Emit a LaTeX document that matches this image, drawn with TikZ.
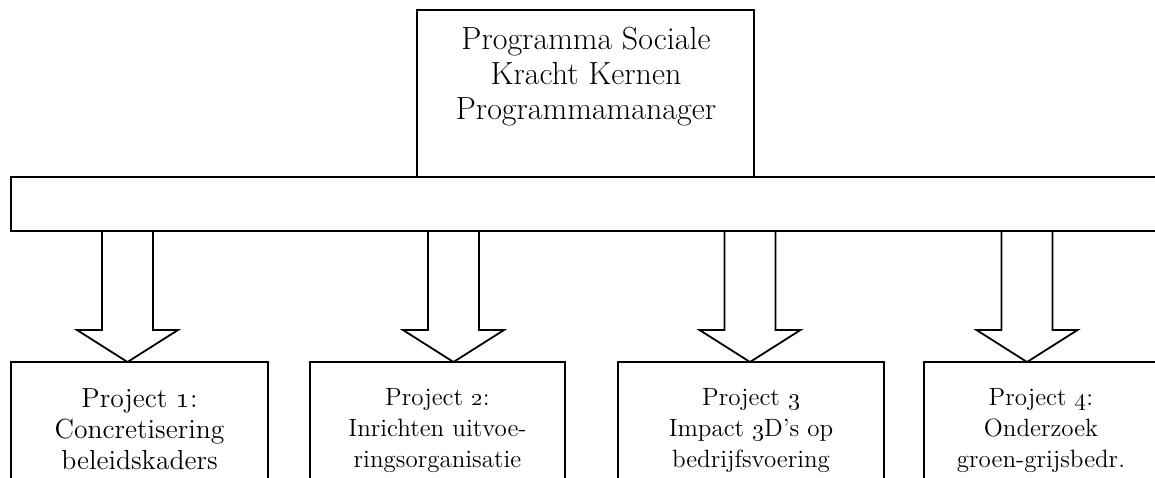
\documentclass[tikz,border=0pt]{standalone}
\usetikzlibrary{fit,calc}
\begin{document}
\begin{tikzpicture}[x=0.5pt,y=-0.5pt,
  box/.style={draw,line width=0.9pt,inner sep=0pt,outer sep=0pt},
  lbl/.style={align=center,inner sep=0pt,anchor=north},
  bigtxt/.style={font=\fontsize{16}{17.5}\selectfont},
  midtxt/.style={font=\fontsize{13.8}{15.5}\selectfont},
  smalltxt/.style={font=\fontsize{12.5}{15.5}\selectfont},
  blk/.style={draw,line width=0.9pt,line join=miter}]
\useasboundingbox (0,0) rectangle (1155,477);
\clip (0,0) rectangle (1155,477);
% top box and bar
\node[box,fit={(417,10)(754,177)}] (top) {};
\node[lbl,bigtxt] (toptext) at (586,27) {Programma Sociale\\Kracht Kernen\\Programmamanager};
\node[box,fit={(11,177)(1175,231)}] (bar) {};
% project boxes
\node[box,fit={(11,362)(268,540)}] (p1) {};
\node[box,fit={(310,362)(565,540)}] (p2) {};
\node[box,fit={(618,362)(884,540)}] (p3) {};
\node[box,fit={(924,362)(1158,540)}] (p4) {};
\node[lbl,midtxt] (t1) at (139.5,388) {Project \oldstylenums{1}:\\Concretisering\\beleidskaders};
\node[lbl,smalltxt] (t2) at (437.5,388) {Project \oldstylenums{2}:\\Inrichten uitvoe-\\ringsorganisatie};
\node[lbl,smalltxt] (t3) at (751,388) {Project \oldstylenums{3}\\Impact \oldstylenums{3}D's op\\bedrijfsvoering};
\node[lbl,smalltxt] (t4) at (1041,388) {Project \oldstylenums{4}:\\Onderzoek\\groen-grijsbedr.};
% arrow tips on box tops
\path (p1.north -| 127.5,0) coordinate (tip1);
\path (p2.north -| 453.5,0) coordinate (tip2);
\path (p3.north -| 750,0) coordinate (tip3);
\path (p4.north -| 1027,0) coordinate (tip4);
\foreach \i in {1,2,3,4}{
  \draw[blk] ($(bar.south -| tip\i)+(-25.5,0)$) -- ++(0,99) -- ++(-25,0) -- (tip\i)
    -- ++(50.5,-32) -- ++(-25,0) -- ($(bar.south -| tip\i)+(25.5,0)$);
}
\end{tikzpicture}
\end{document}
